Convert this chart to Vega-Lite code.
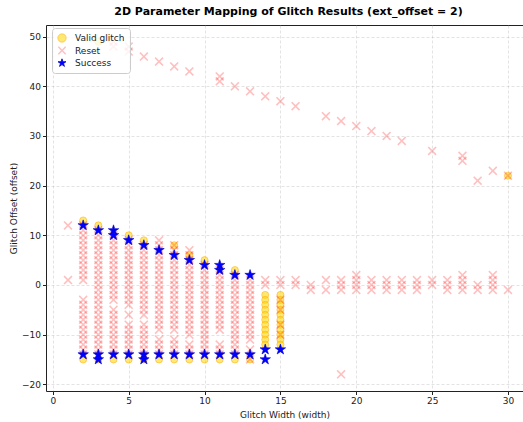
{
 "$schema": "https://vega.github.io/schema/vega-lite/v6.json",
 "autosize": {"type": "none"},
 "padding": {"left": 46, "top": 25, "right": 0, "bottom": 31},
 "width": 477,
 "height": 366,
 "background": "white",
 "title": {"text": "2D Parameter Mapping of Glitch Results (ext_offset = 2)", "font": "DejaVu Sans", "fontSize": 11, "fontWeight": "bold", "color": "black", "anchor": "middle", "offset": 8, "dx": 4},
 "config": {
  "view": {"stroke": "#222", "strokeWidth": 1},
  "axis": {"labelFont": "DejaVu Sans", "labelFontSize": 9, "labelColor": "#222", "titleFont": "DejaVu Sans", "titleFontSize": 9, "titleFontWeight": "normal", "titleColor": "#222", "tickColor": "#222", "tickSize": 3.5, "domain": false, "gridColor": "#b0b0b0", "gridOpacity": 0.45, "gridDash": [3, 2], "gridWidth": 0.8, "labelPadding": 2},
  "legend": {"orient": "none", "legendX": 6, "legendY": 3, "fillColor": "rgba(255,255,255,0.8)", "strokeColor": "#cccccc", "cornerRadius": 3, "padding": 5, "labelFont": "DejaVu Sans", "labelFontSize": 9, "labelColor": "#222", "rowPadding": 0.5, "labelOffset": 8, "symbolSize": 70, "symbolStrokeWidth": 0.8}
 },
 "data": {"values": [
  {"w":2,"o":13,"r":"Valid glitch"},{"w":2,"o":-15,"r":"Valid glitch"},{"w":3,"o":12,"r":"Valid glitch"},{"w":3,"o":-15,"r":"Valid glitch"},{"w":4,"o":-15,"r":"Valid glitch"},{"w":5,"o":10,"r":"Valid glitch"},{"w":5,"o":-15,"r":"Valid glitch"},{"w":6,"o":9,"r":"Valid glitch"},{"w":6,"o":-15,"r":"Valid glitch"},{"w":7,"o":-15,"r":"Valid glitch"},{"w":8,"o":8,"r":"Valid glitch"},{"w":8,"o":-15,"r":"Valid glitch"},{"w":9,"o":6,"r":"Valid glitch"},{"w":9,"o":-15,"r":"Valid glitch"},{"w":10,"o":5,"r":"Valid glitch"},{"w":10,"o":-15,"r":"Valid glitch"},{"w":11,"o":-15,"r":"Valid glitch"},{"w":12,"o":3,"r":"Valid glitch"},{"w":12,"o":-15,"r":"Valid glitch"},{"w":13,"o":-15,"r":"Valid glitch"},
  {"w":14,"o":-2,"r":"Valid glitch"},{"w":14,"o":-3,"r":"Valid glitch"},{"w":14,"o":-4,"r":"Valid glitch"},{"w":14,"o":-5,"r":"Valid glitch"},{"w":14,"o":-6,"r":"Valid glitch"},{"w":14,"o":-7,"r":"Valid glitch"},{"w":14,"o":-8,"r":"Valid glitch"},{"w":14,"o":-9,"r":"Valid glitch"},{"w":14,"o":-10,"r":"Valid glitch"},{"w":14,"o":-11,"r":"Valid glitch"},{"w":14,"o":-12,"r":"Valid glitch"},
  {"w":15,"o":-2,"r":"Valid glitch"},{"w":15,"o":-3,"r":"Valid glitch"},{"w":15,"o":-4,"r":"Valid glitch"},{"w":15,"o":-5,"r":"Valid glitch"},{"w":15,"o":-6,"r":"Valid glitch"},{"w":15,"o":-7,"r":"Valid glitch"},{"w":15,"o":-8,"r":"Valid glitch"},{"w":15,"o":-9,"r":"Valid glitch"},{"w":15,"o":-10,"r":"Valid glitch"},{"w":15,"o":-11,"r":"Valid glitch"},{"w":15,"o":-12,"r":"Valid glitch"},
  {"w":30,"o":22,"r":"Valid glitch"},{"w":3,"o":49,"r":"Valid glitch"},

  {"w":1,"o":12,"r":"Reset"},{"w":1,"o":1,"r":"Reset"},
  {"w":2,"o":12,"r":"Reset"},{"w":2,"o":11,"r":"Reset"},{"w":2,"o":10,"r":"Reset"},{"w":2,"o":9,"r":"Reset"},{"w":2,"o":8,"r":"Reset"},{"w":2,"o":7,"r":"Reset"},{"w":2,"o":6,"r":"Reset"},{"w":2,"o":5,"r":"Reset"},{"w":2,"o":4,"r":"Reset"},{"w":2,"o":3,"r":"Reset"},{"w":2,"o":2,"r":"Reset"},{"w":2,"o":1,"r":"Reset"},{"w":2,"o":-3,"r":"Reset"},{"w":2,"o":-4,"r":"Reset"},{"w":2,"o":-5,"r":"Reset"},{"w":2,"o":-6,"r":"Reset"},{"w":2,"o":-7,"r":"Reset"},{"w":2,"o":-8,"r":"Reset"},{"w":2,"o":-9,"r":"Reset"},{"w":2,"o":-10,"r":"Reset"},{"w":2,"o":-11,"r":"Reset"},{"w":2,"o":-12,"r":"Reset"},{"w":2,"o":-13,"r":"Reset"},{"w":2,"o":-14,"r":"Reset"},
  {"w":3,"o":11,"r":"Reset"},{"w":3,"o":10,"r":"Reset"},{"w":3,"o":9,"r":"Reset"},{"w":3,"o":8,"r":"Reset"},{"w":3,"o":7,"r":"Reset"},{"w":3,"o":6,"r":"Reset"},{"w":3,"o":5,"r":"Reset"},{"w":3,"o":4,"r":"Reset"},{"w":3,"o":3,"r":"Reset"},{"w":3,"o":2,"r":"Reset"},{"w":3,"o":1,"r":"Reset"},{"w":3,"o":0,"r":"Reset"},{"w":3,"o":-1,"r":"Reset"},{"w":3,"o":-2,"r":"Reset"},{"w":3,"o":-3,"r":"Reset"},{"w":3,"o":-4,"r":"Reset"},{"w":3,"o":-5,"r":"Reset"},{"w":3,"o":-6,"r":"Reset"},{"w":3,"o":-7,"r":"Reset"},{"w":3,"o":-8,"r":"Reset"},{"w":3,"o":-9,"r":"Reset"},{"w":3,"o":-10,"r":"Reset"},{"w":3,"o":-11,"r":"Reset"},{"w":3,"o":-12,"r":"Reset"},{"w":3,"o":-13,"r":"Reset"},{"w":3,"o":-14,"r":"Reset"},
  {"w":4,"o":10,"r":"Reset"},{"w":4,"o":9,"r":"Reset"},{"w":4,"o":8,"r":"Reset"},{"w":4,"o":7,"r":"Reset"},{"w":4,"o":6,"r":"Reset"},{"w":4,"o":5,"r":"Reset"},{"w":4,"o":4,"r":"Reset"},{"w":4,"o":3,"r":"Reset"},{"w":4,"o":2,"r":"Reset"},{"w":4,"o":1,"r":"Reset"},{"w":4,"o":0,"r":"Reset"},{"w":4,"o":-1,"r":"Reset"},{"w":4,"o":-2,"r":"Reset"},{"w":4,"o":-3,"r":"Reset"},{"w":4,"o":-5,"r":"Reset"},{"w":4,"o":-6,"r":"Reset"},{"w":4,"o":-7,"r":"Reset"},{"w":4,"o":-8,"r":"Reset"},{"w":4,"o":-9,"r":"Reset"},{"w":4,"o":-10,"r":"Reset"},{"w":4,"o":-11,"r":"Reset"},{"w":4,"o":-12,"r":"Reset"},{"w":4,"o":-13,"r":"Reset"},{"w":4,"o":-14,"r":"Reset"},
  {"w":5,"o":9,"r":"Reset"},{"w":5,"o":8,"r":"Reset"},{"w":5,"o":7,"r":"Reset"},{"w":5,"o":6,"r":"Reset"},{"w":5,"o":5,"r":"Reset"},{"w":5,"o":4,"r":"Reset"},{"w":5,"o":3,"r":"Reset"},{"w":5,"o":2,"r":"Reset"},{"w":5,"o":1,"r":"Reset"},{"w":5,"o":0,"r":"Reset"},{"w":5,"o":-1,"r":"Reset"},{"w":5,"o":-2,"r":"Reset"},{"w":5,"o":-3,"r":"Reset"},{"w":5,"o":-4,"r":"Reset"},{"w":5,"o":-6,"r":"Reset"},{"w":5,"o":-8,"r":"Reset"},{"w":5,"o":-9,"r":"Reset"},{"w":5,"o":-10,"r":"Reset"},{"w":5,"o":-11,"r":"Reset"},{"w":5,"o":-12,"r":"Reset"},{"w":5,"o":-13,"r":"Reset"},{"w":5,"o":-14,"r":"Reset"},
  {"w":6,"o":8,"r":"Reset"},{"w":6,"o":7,"r":"Reset"},{"w":6,"o":6,"r":"Reset"},{"w":6,"o":5,"r":"Reset"},{"w":6,"o":4,"r":"Reset"},{"w":6,"o":3,"r":"Reset"},{"w":6,"o":2,"r":"Reset"},{"w":6,"o":1,"r":"Reset"},{"w":6,"o":0,"r":"Reset"},{"w":6,"o":-1,"r":"Reset"},{"w":6,"o":-2,"r":"Reset"},{"w":6,"o":-3,"r":"Reset"},{"w":6,"o":-4,"r":"Reset"},{"w":6,"o":-5,"r":"Reset"},{"w":6,"o":-6,"r":"Reset"},{"w":6,"o":-8,"r":"Reset"},{"w":6,"o":-9,"r":"Reset"},{"w":6,"o":-10,"r":"Reset"},{"w":6,"o":-11,"r":"Reset"},{"w":6,"o":-12,"r":"Reset"},{"w":6,"o":-13,"r":"Reset"},{"w":6,"o":-14,"r":"Reset"},
  {"w":7,"o":9,"r":"Reset"},{"w":7,"o":8,"r":"Reset"},{"w":7,"o":7,"r":"Reset"},{"w":7,"o":6,"r":"Reset"},{"w":7,"o":5,"r":"Reset"},{"w":7,"o":4,"r":"Reset"},{"w":7,"o":3,"r":"Reset"},{"w":7,"o":2,"r":"Reset"},{"w":7,"o":1,"r":"Reset"},{"w":7,"o":0,"r":"Reset"},{"w":7,"o":-1,"r":"Reset"},{"w":7,"o":-2,"r":"Reset"},{"w":7,"o":-3,"r":"Reset"},{"w":7,"o":-4,"r":"Reset"},{"w":7,"o":-5,"r":"Reset"},{"w":7,"o":-6,"r":"Reset"},{"w":7,"o":-7,"r":"Reset"},{"w":7,"o":-8,"r":"Reset"},{"w":7,"o":-9,"r":"Reset"},{"w":7,"o":-11,"r":"Reset"},{"w":7,"o":-12,"r":"Reset"},{"w":7,"o":-13,"r":"Reset"},{"w":7,"o":-14,"r":"Reset"},
  {"w":8,"o":8,"r":"Reset"},{"w":8,"o":7,"r":"Reset"},{"w":8,"o":6,"r":"Reset"},{"w":8,"o":5,"r":"Reset"},{"w":8,"o":4,"r":"Reset"},{"w":8,"o":3,"r":"Reset"},{"w":8,"o":2,"r":"Reset"},{"w":8,"o":1,"r":"Reset"},{"w":8,"o":0,"r":"Reset"},{"w":8,"o":-1,"r":"Reset"},{"w":8,"o":-2,"r":"Reset"},{"w":8,"o":-3,"r":"Reset"},{"w":8,"o":-4,"r":"Reset"},{"w":8,"o":-5,"r":"Reset"},{"w":8,"o":-6,"r":"Reset"},{"w":8,"o":-7,"r":"Reset"},{"w":8,"o":-8,"r":"Reset"},{"w":8,"o":-9,"r":"Reset"},{"w":8,"o":-11,"r":"Reset"},{"w":8,"o":-12,"r":"Reset"},{"w":8,"o":-13,"r":"Reset"},{"w":8,"o":-14,"r":"Reset"},
  {"w":9,"o":7,"r":"Reset"},{"w":9,"o":6,"r":"Reset"},{"w":9,"o":5,"r":"Reset"},{"w":9,"o":4,"r":"Reset"},{"w":9,"o":3,"r":"Reset"},{"w":9,"o":2,"r":"Reset"},{"w":9,"o":1,"r":"Reset"},{"w":9,"o":0,"r":"Reset"},{"w":9,"o":-1,"r":"Reset"},{"w":9,"o":-2,"r":"Reset"},{"w":9,"o":-3,"r":"Reset"},{"w":9,"o":-4,"r":"Reset"},{"w":9,"o":-5,"r":"Reset"},{"w":9,"o":-6,"r":"Reset"},{"w":9,"o":-7,"r":"Reset"},{"w":9,"o":-8,"r":"Reset"},{"w":9,"o":-9,"r":"Reset"},{"w":9,"o":-10,"r":"Reset"},{"w":9,"o":-12,"r":"Reset"},{"w":9,"o":-13,"r":"Reset"},{"w":9,"o":-14,"r":"Reset"},
  {"w":10,"o":4,"r":"Reset"},{"w":10,"o":3,"r":"Reset"},{"w":10,"o":2,"r":"Reset"},{"w":10,"o":1,"r":"Reset"},{"w":10,"o":0,"r":"Reset"},{"w":10,"o":-1,"r":"Reset"},{"w":10,"o":-2,"r":"Reset"},{"w":10,"o":-3,"r":"Reset"},{"w":10,"o":-4,"r":"Reset"},{"w":10,"o":-5,"r":"Reset"},{"w":10,"o":-6,"r":"Reset"},{"w":10,"o":-7,"r":"Reset"},{"w":10,"o":-8,"r":"Reset"},{"w":10,"o":-9,"r":"Reset"},{"w":10,"o":-10,"r":"Reset"},{"w":10,"o":-11,"r":"Reset"},{"w":10,"o":-12,"r":"Reset"},{"w":10,"o":-13,"r":"Reset"},{"w":10,"o":-14,"r":"Reset"},
  {"w":11,"o":3,"r":"Reset"},{"w":11,"o":2,"r":"Reset"},{"w":11,"o":1,"r":"Reset"},{"w":11,"o":0,"r":"Reset"},{"w":11,"o":-1,"r":"Reset"},{"w":11,"o":-2,"r":"Reset"},{"w":11,"o":-3,"r":"Reset"},{"w":11,"o":-4,"r":"Reset"},{"w":11,"o":-5,"r":"Reset"},{"w":11,"o":-6,"r":"Reset"},{"w":11,"o":-7,"r":"Reset"},{"w":11,"o":-8,"r":"Reset"},{"w":11,"o":-9,"r":"Reset"},{"w":11,"o":-12,"r":"Reset"},{"w":11,"o":-13,"r":"Reset"},{"w":11,"o":-14,"r":"Reset"},
  {"w":12,"o":2,"r":"Reset"},{"w":12,"o":1,"r":"Reset"},{"w":12,"o":0,"r":"Reset"},{"w":12,"o":-1,"r":"Reset"},{"w":12,"o":-2,"r":"Reset"},{"w":12,"o":-3,"r":"Reset"},{"w":12,"o":-4,"r":"Reset"},{"w":12,"o":-5,"r":"Reset"},{"w":12,"o":-6,"r":"Reset"},{"w":12,"o":-7,"r":"Reset"},{"w":12,"o":-8,"r":"Reset"},{"w":12,"o":-9,"r":"Reset"},{"w":12,"o":-10,"r":"Reset"},{"w":12,"o":-11,"r":"Reset"},{"w":12,"o":-12,"r":"Reset"},{"w":12,"o":-13,"r":"Reset"},{"w":12,"o":-14,"r":"Reset"},
  {"w":13,"o":1,"r":"Reset"},{"w":13,"o":0,"r":"Reset"},{"w":13,"o":-1,"r":"Reset"},{"w":13,"o":-2,"r":"Reset"},{"w":13,"o":-3,"r":"Reset"},{"w":13,"o":-4,"r":"Reset"},{"w":13,"o":-5,"r":"Reset"},{"w":13,"o":-6,"r":"Reset"},{"w":13,"o":-7,"r":"Reset"},{"w":13,"o":-8,"r":"Reset"},{"w":13,"o":-9,"r":"Reset"},{"w":13,"o":-10,"r":"Reset"},{"w":13,"o":-11,"r":"Reset"},{"w":13,"o":-13,"r":"Reset"},{"w":13,"o":-15,"r":"Reset"},
  {"w":14,"o":1,"r":"Reset"},{"w":14,"o":0,"r":"Reset"},
  {"w":15,"o":1,"r":"Reset"},{"w":15,"o":0,"r":"Reset"},{"w":15,"o":-3,"r":"Reset"},{"w":15,"o":-5,"r":"Reset"},{"w":15,"o":-8,"r":"Reset"},{"w":15,"o":-10,"r":"Reset"},
  {"w":16,"o":1,"r":"Reset"},{"w":16,"o":0,"r":"Reset"},{"w":17,"o":0,"r":"Reset"},{"w":17,"o":-1,"r":"Reset"},{"w":18,"o":1,"r":"Reset"},{"w":18,"o":-1,"r":"Reset"},
  {"w":19,"o":1,"r":"Reset"},{"w":19,"o":0,"r":"Reset"},{"w":19,"o":-1,"r":"Reset"},{"w":19,"o":-18,"r":"Reset"},
  {"w":20,"o":2,"r":"Reset"},{"w":20,"o":1,"r":"Reset"},{"w":20,"o":0,"r":"Reset"},{"w":20,"o":-1,"r":"Reset"},
  {"w":21,"o":1,"r":"Reset"},{"w":21,"o":0,"r":"Reset"},{"w":21,"o":-1,"r":"Reset"},
  {"w":22,"o":1,"r":"Reset"},{"w":22,"o":0,"r":"Reset"},{"w":22,"o":-1,"r":"Reset"},
  {"w":23,"o":1,"r":"Reset"},{"w":23,"o":0,"r":"Reset"},{"w":23,"o":-1,"r":"Reset"},
  {"w":24,"o":1,"r":"Reset"},{"w":24,"o":0,"r":"Reset"},{"w":24,"o":-1,"r":"Reset"},
  {"w":25,"o":1,"r":"Reset"},{"w":25,"o":0,"r":"Reset"},
  {"w":26,"o":1,"r":"Reset"},{"w":26,"o":0,"r":"Reset"},{"w":26,"o":-1,"r":"Reset"},
  {"w":27,"o":2,"r":"Reset"},{"w":27,"o":1,"r":"Reset"},{"w":27,"o":0,"r":"Reset"},{"w":27,"o":-1,"r":"Reset"},
  {"w":28,"o":0,"r":"Reset"},{"w":28,"o":-1,"r":"Reset"},
  {"w":29,"o":2,"r":"Reset"},{"w":29,"o":1,"r":"Reset"},{"w":29,"o":0,"r":"Reset"},{"w":29,"o":-1,"r":"Reset"},
  {"w":30,"o":-1,"r":"Reset"},{"w":30,"o":22,"r":"Reset"},
  {"w":4,"o":49,"r":"Reset"},{"w":4,"o":48,"r":"Reset"},{"w":5,"o":48,"r":"Reset"},{"w":5,"o":47,"r":"Reset"},{"w":6,"o":46,"r":"Reset"},{"w":7,"o":45,"r":"Reset"},{"w":8,"o":44,"r":"Reset"},{"w":9,"o":43,"r":"Reset"},{"w":11,"o":42,"r":"Reset"},{"w":11,"o":41,"r":"Reset"},{"w":12,"o":40,"r":"Reset"},{"w":13,"o":39,"r":"Reset"},{"w":14,"o":38,"r":"Reset"},{"w":15,"o":37,"r":"Reset"},{"w":16,"o":36,"r":"Reset"},{"w":18,"o":34,"r":"Reset"},{"w":19,"o":33,"r":"Reset"},{"w":20,"o":32,"r":"Reset"},{"w":21,"o":31,"r":"Reset"},{"w":22,"o":30,"r":"Reset"},{"w":23,"o":29,"r":"Reset"},{"w":25,"o":27,"r":"Reset"},{"w":27,"o":26,"r":"Reset"},{"w":27,"o":25,"r":"Reset"},{"w":28,"o":21,"r":"Reset"},{"w":29,"o":23,"r":"Reset"},

  {"w":2,"o":12,"r":"Success"},{"w":2,"o":-14,"r":"Success"},{"w":3,"o":11,"r":"Success"},{"w":3,"o":-14,"r":"Success"},{"w":3,"o":-15,"r":"Success"},{"w":4,"o":11,"r":"Success"},{"w":4,"o":10,"r":"Success"},{"w":4,"o":-14,"r":"Success"},{"w":5,"o":9,"r":"Success"},{"w":5,"o":-14,"r":"Success"},{"w":6,"o":8,"r":"Success"},{"w":6,"o":-14,"r":"Success"},{"w":6,"o":-15,"r":"Success"},{"w":7,"o":7,"r":"Success"},{"w":7,"o":-14,"r":"Success"},{"w":8,"o":6,"r":"Success"},{"w":8,"o":-14,"r":"Success"},{"w":9,"o":5,"r":"Success"},{"w":9,"o":-14,"r":"Success"},{"w":10,"o":4,"r":"Success"},{"w":10,"o":-14,"r":"Success"},{"w":11,"o":4,"r":"Success"},{"w":11,"o":3,"r":"Success"},{"w":11,"o":-14,"r":"Success"},{"w":12,"o":2,"r":"Success"},{"w":12,"o":-14,"r":"Success"},{"w":13,"o":2,"r":"Success"},{"w":13,"o":-14,"r":"Success"},{"w":14,"o":-13,"r":"Success"},{"w":14,"o":-15,"r":"Success"},{"w":15,"o":-13,"r":"Success"}
 ]},
 "encoding": {
  "x": {"field": "w", "type": "quantitative", "scale": {"domain": [-0.45, 30.99], "nice": false, "zero": false}, "axis": {"values": [0, 5, 10, 15, 20, 25, 30], "title": "Glitch Width (width)", "titlePadding": 5}},
  "y": {"field": "o", "type": "quantitative", "scale": {"domain": [-21.35, 52.35], "nice": false, "zero": false}, "axis": {"values": [-20, -10, 0, 10, 20, 30, 40, 50], "title": "Glitch Offset (offset)", "titlePadding": 3}},
  "fill": {"field": "r", "type": "nominal", "title": null, "scale": {"domain": ["Valid glitch", "Reset", "Success"], "range": ["rgba(255,215,0,0.55)", "rgba(255,0,0,0.25)", "#0000ff"]}},
  "shape": {"field": "r", "type": "nominal", "title": null, "scale": {"domain": ["Valid glitch", "Reset", "Success"], "range": ["circle", "M-1,-0.75L-0.75,-1L0,-0.25L0.75,-1L1,-0.75L0.25,0L1,0.75L0.75,1L0,0.25L-0.75,1L-1,0.75L-0.25,0Z", "M0,-1L0.225,-0.309L0.951,-0.309L0.363,0.118L0.588,0.809L0,0.382L-0.588,0.809L-0.363,0.118L-0.951,-0.309L-0.225,-0.309Z"]}},
  "stroke": {"field": "r", "type": "nominal", "title": null, "scale": {"domain": ["Valid glitch", "Reset", "Success"], "range": ["rgba(255,165,0,0.6)", "rgba(255,0,0,0)", "#0000cc"]}}
 },
 "layer": [
  {"transform": [{"filter": "datum.r === 'Valid glitch'"}], "mark": {"type": "point", "filled": true, "size": 50, "strokeWidth": 0.8, "opacity": 1}},
  {"transform": [{"filter": "datum.r === 'Reset'"}], "mark": {"type": "point", "filled": true, "size": 81, "strokeWidth": 0, "opacity": 1}},
  {"transform": [{"filter": "datum.r === 'Success'"}], "mark": {"type": "point", "filled": true, "size": 121, "strokeWidth": 0.6, "opacity": 1}}
 ]
}
